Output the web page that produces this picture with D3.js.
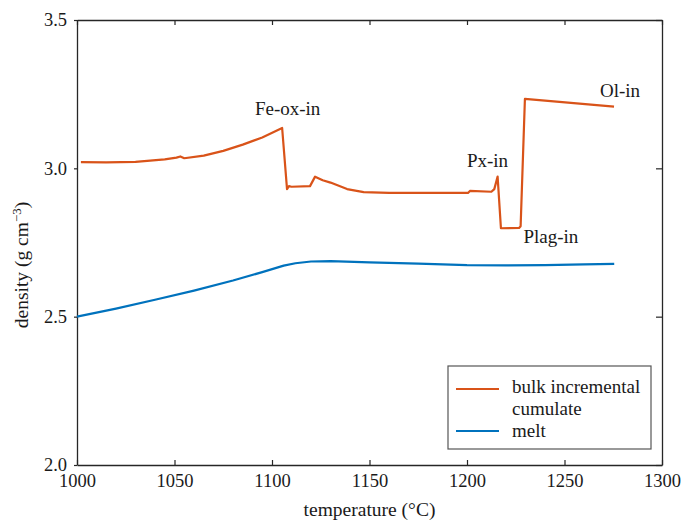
<!DOCTYPE html>
<html>
<head>
<meta charset="utf-8">
<script src="https://cdn.jsdelivr.net/npm/d3@7"></script>
<style>
  body { margin: 0; background: #fff; }
  svg { font-family: "Liberation Serif", "DejaVu Serif", serif; }
</style>
</head>
<body>
<div class="chart"></div>
<script>
// temperature (°C) and density (g cm-3)
const cumulateT = [1002, 1015, 1030, 1045, 1051, 1053, 1055, 1065, 1075, 1085, 1095, 1105.2,
  1107.7, 1108.7, 1110, 1119.5, 1122.1, 1126, 1130, 1138.5, 1147, 1160, 1200.5, 1201.5,
  1212.5, 1214, 1215.7, 1217.4, 1226.7, 1227.5, 1229.7, 1275.4];
const cumulateD = [3.021, 3.020, 3.022, 3.030, 3.036, 3.040, 3.034, 3.043, 3.059, 3.080, 3.104, 3.136,
  2.930, 2.940, 2.938, 2.940, 2.972, 2.960, 2.952, 2.930, 2.920, 2.917, 2.917, 2.924,
  2.921, 2.930, 2.972, 2.798, 2.799, 2.805, 3.234, 3.208];

const meltT = [1000, 1020, 1040, 1060, 1080, 1095, 1106, 1112, 1120, 1130, 1150, 1175,
  1200, 1220, 1240, 1260, 1275.5];
const meltD = [2.500, 2.527, 2.557, 2.588, 2.622, 2.650, 2.672, 2.680, 2.686, 2.687, 2.683, 2.679,
  2.674, 2.673, 2.674, 2.676, 2.678];

const xTicks = [1000, 1050, 1100, 1150, 1200, 1250, 1300];
const yTicks = [2.0, 2.5, 3.0, 3.5];

const annotations = [
  {text: "Fe-ox-in", T: 1108, d: 3.180},
  {text: "Px-in", T: 1210.5, d: 3.004},
  {text: "Plag-in", T: 1243, d: 2.748},
  {text: "Ol-in", T: 1278.5, d: 3.240}
];

const orange = "#d95319", blue = "#0072bd", axisCol = "#262626";

const W = 682, H = 523;
const margin = {top: 20, right: 20, bottom: 58, left: 77};
const width = W - margin.left - margin.right;   // 585
const height = H - margin.top - margin.bottom;  // 445

const svg = d3.select(".chart").append("svg")
  .attr("width", W).attr("height", H);

const g = svg.append("g")
  .attr("transform", "translate(" + margin.left + "," + margin.top + ")");

const x = d3.scaleLinear().domain([1000, 1300]).range([0, width]);
const y = d3.scaleLinear().domain([2.0, 3.5]).range([height, 0]);

// axes (box style)
const axB = g.append("g").attr("transform", "translate(0," + height + ")")
  .call(d3.axisBottom(x).tickValues(xTicks).tickSizeInner(-5).tickSizeOuter(0).tickPadding(14)
    .tickFormat(d3.format("d")));
const axT = g.append("g")
  .call(d3.axisTop(x).tickValues(xTicks).tickSizeInner(-5).tickSizeOuter(0).tickFormat(""));
const axL = g.append("g")
  .call(d3.axisLeft(y).tickValues(yTicks).tickSizeInner(3).tickSizeOuter(0).tickPadding(7)
    .tickFormat(d3.format(".1f")));
const axR = g.append("g").attr("transform", "translate(" + width + ",0)")
  .call(d3.axisRight(y).tickValues(yTicks).tickSizeInner(-6).tickSizeOuter(0).tickFormat(""));

[axB, axT, axL, axR].forEach(a => {
  a.select(".domain").attr("stroke", axisCol).attr("stroke-width", 1.3);
  a.selectAll(".tick line").attr("stroke", axisCol).attr("stroke-width", 1.2);
  a.selectAll(".tick text").attr("fill", "#1a1a1a").attr("font-size", "18.5px")
    .attr("font-family", "Liberation Serif");
});
axB.selectAll(".tick text").attr("dy", "0.45em");

// axis labels
g.append("text")
  .attr("x", width / 2).attr("y", height + 51)
  .attr("text-anchor", "middle").attr("font-size", "19.5px").attr("fill", "#1a1a1a")
  .text("temperature (°C)");

const yl = g.append("text")
  .attr("transform", "translate(" + (-49) + "," + (245) + ") rotate(-90)")
  .attr("text-anchor", "middle").attr("font-size", "19.5px").attr("fill", "#1a1a1a");
yl.append("tspan").text("density (g cm");
yl.append("tspan").attr("font-size", "13px").attr("dy", "-7").text("\u22123");
yl.append("tspan").attr("dy", "7").text(")");

// lines
const line = d3.line().x(d => x(d[0])).y(d => y(d[1]));

g.append("path")
  .datum(meltT.map((t, i) => [t, meltD[i]]))
  .attr("d", line).attr("fill", "none")
  .attr("stroke", blue).attr("stroke-width", 2.2).attr("stroke-linejoin", "round");

g.append("path")
  .datum(cumulateT.map((t, i) => [t, cumulateD[i]]))
  .attr("d", line).attr("fill", "none")
  .attr("stroke", orange).attr("stroke-width", 2.2).attr("stroke-linejoin", "round");

// phase-in labels
g.selectAll(".ann").data(annotations).enter().append("text")
  .attr("class", "ann")
  .attr("x", d => x(d.T)).attr("y", d => y(d.d))
  .attr("text-anchor", "middle").attr("font-size", "19px").attr("fill", "#1a1a1a")
  .text(d => d.text);

// legend
const lg = g.append("g").attr("transform", "translate(" + (448 - margin.left) + "," + (366 - margin.top) + ")");
lg.append("rect").attr("width", 203).attr("height", 83)
  .attr("fill", "#fff").attr("stroke", "#555").attr("stroke-width", 1.2);
const legendItems = [
  {color: orange, ly: 23},
  {color: blue, ly: 65}
];
legendItems.forEach(it => {
  lg.append("line").attr("x1", 8).attr("x2", 51).attr("y1", it.ly).attr("y2", it.ly)
    .attr("stroke", it.color).attr("stroke-width", 2.2);
});
lg.append("text").attr("x", 64).attr("y", 27).attr("font-size", "19px").attr("fill", "#1a1a1a").text("bulk incremental");
lg.append("text").attr("x", 64).attr("y", 49).attr("font-size", "19px").attr("fill", "#1a1a1a").text("cumulate");
lg.append("text").attr("x", 64).attr("y", 71).attr("font-size", "19px").attr("fill", "#1a1a1a").text("melt");
</script>
</body>
</html>
